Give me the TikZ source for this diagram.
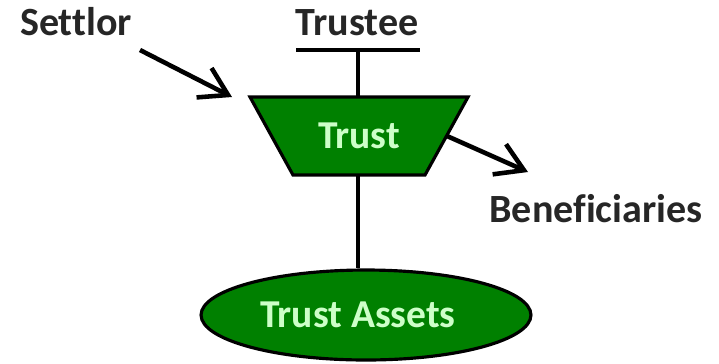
\documentclass[tikz,border=0pt]{standalone}
\usepackage{fontspec}
\setmainfont{Carlito}[Ligatures=NoCommon]
\usetikzlibrary{arrows.meta,shapes.geometric,positioning}

\definecolor{trustgreen}{RGB}{0,128,0}
\definecolor{paletext}{RGB}{205,255,200}

\begin{document}
\begin{tikzpicture}[x=0.02cm, y=-0.02cm,
  lbl/.style={font=\fontsize{22.8}{26}\selectfont\bfseries, text=black!85, inner sep=0pt, anchor=base},
  box/.style={draw=black, line width=1.8pt, fill=trustgreen},
  boxtext/.style={text=paletext, font=\fontsize{22.5}{26}\selectfont\bfseries, inner sep=0pt},
  link/.style={line width=2.2pt},
  arr/.style={line width=2.6pt, -{Straight Barb[length=5.4mm, width=6.6mm, line width=2.6pt]}}]

\useasboundingbox (0,0) rectangle (719,363);

% labels
\node[lbl] (settlor) at (76,35)  {Settlor};
\node[lbl] (trustee) at (357,35) {Trustee};
\node[lbl] (benef)   at (596,222) {Beneficiaries};

% the trust (drawn by hand) and its assets
\draw[box] (250,97) -- (468,97) -- (425,175) -- (293,175) -- cycle;
\node[boxtext] (trust) at (359,136) {Trust};
\coordinate (trusttop) at (358,97);
\coordinate (trustbot) at (358,175);
\coordinate (trustright) at (447,136);
\node[box, ellipse, minimum width=6.6cm, minimum height=1.8cm, inner sep=0pt] (assets) at (366,315) {};
\node[boxtext] (assetstext) at (358,315) {Trust Assets};

% trustee bar
\coordinate (barl) at (296,50);
\coordinate (barr) at (420,50);
\coordinate (barm) at (358,50);
\draw[link] (barl) -- (barr);
\draw[link] (barm) -- (trusttop);

% connectors
\draw[link] (trustbot) -- (trustbot |- assets.north);
\coordinate (s0) at (140,50);
\coordinate (s1) at (232,97);
\draw[arr] (s0) -- (s1);
\coordinate (b1) at (528,172);
\draw[arr] (trustright) -- (b1);

\end{tikzpicture}
\end{document}
